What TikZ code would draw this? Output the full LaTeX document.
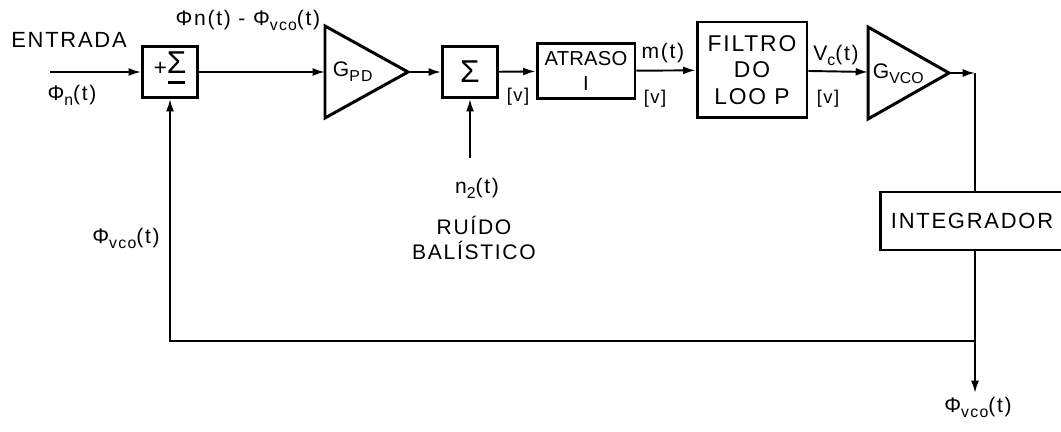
\documentclass[tikz,border=0pt]{standalone}
\usepackage{fontspec}
\setmainfont{Liberation Sans}[LetterSpace=8]
\usetikzlibrary{arrows.meta}
\newcommand{\sbs}[1]{\raisebox{-0.45ex}{\fontsize{9}{10}\selectfont #1}}
\begin{document}
\begin{tikzpicture}[x=0.02cm, y=-0.02cm, >={Latex[length=7pt,width=4.5pt]}, line width=1.1pt,
  blk/.style={draw, line width=1.7pt, align=center, inner sep=1pt, font=\fontsize{13}{15}\selectfont},
  amp/.style={draw, line width=1.7pt, line join=miter},
  lbl/.style={inner sep=0pt, font=\fontsize{12}{14}\selectfont},
  unit/.style={inner sep=0pt, font=\fontsize{10.5}{12}\selectfont}]
  \useasboundingbox (0,0) rectangle (1061,432);

  % blocos
  \node[blk, minimum width=1.1cm, minimum height=1.02cm] (sumA) at (170,72)
    {\raisebox{-3pt}{+}\raisebox{-4pt}{\begin{tabular}{@{}c@{}}{\fontsize{18}{18}\selectfont Σ}\\[-9pt]\rule{10pt}{1.8pt}\end{tabular}}};
  \node[blk, minimum width=1.1cm, minimum height=1.02cm, font=\fontsize{18}{18}\selectfont] (sumB) at (470,72) {Σ};
  \node[blk, minimum width=1.96cm, minimum height=1.1cm,
    font=\fontsize{11.5}{14}\selectfont\addfontfeature{LetterSpace=1}] (atraso) at (586,71) {ATRASO\\I};
  \node[blk, minimum width=2.2cm, minimum height=1.92cm] (filtro) at (752,70) {FILTRO\\DO\\LOO P};
  \node[blk, minimum width=3.68cm, minimum height=1.16cm, font=\fontsize{12.5}{14}\selectfont] (integ) at (972,221) {INTEGRADOR};

  % amplificadores
  \draw[amp] (325,26) -- (408,72) coordinate (gpd out) -- (325,118) -- cycle;
  \coordinate (gpd in) at (325,72);
  \node[lbl, anchor=west] (gpd) at (332,72) {G\sbs{PD}};
  \draw[amp] (868,27) -- (949,73) coordinate (gvco out) -- (868,119) -- cycle;
  \coordinate (gvco in) at (868,72);
  \node[lbl, anchor=west, font=\fontsize{12}{14}\selectfont\addfontfeature{LetterSpace=0}] (gvco) at (872,74) {G\sbs{VCO}};

  % pontos livres
  \coordinate (in) at (50,72);
  \coordinate (tap) at (975,73);
  \coordinate (fb) at (975,341);
  \coordinate (out) at (975,393);
  \coordinate (noise) at (470,158);

  % ligacoes
  \draw[->] (in) -- (sumA);
  \draw[->] (sumA) -- (gpd in);
  \draw[->] (gpd out) -- (sumB);
  \draw[->] (sumB) -- (atraso);
  \draw[->] (atraso) -- (filtro);
  \draw[->] (filtro) -- (gvco in);
  \draw[->] (gvco out) -- (tap);
  \draw (tap) -- (tap |- integ.north);
  \draw[->] (tap |- integ.south) -- (out);
  \draw[->] (fb) -| (sumA.south);
  \draw[->] (noise) -- (sumB.south);

  % rotulos
  \node[lbl, font=\fontsize{12.5}{14}\selectfont] (entrada) at (69,40) {ENTRADA};
  \node[lbl] (phin) at (72,95) {Φ\sbs{n}(t)};
  \node[lbl] (erro) at (248,20) {Φn(t) - Φ\sbs{vco}(t)};
  \node[unit] (vA) at (518,97) {[v]};
  \node[lbl] (mt) at (663,53) {m(t)};
  \node[unit] (vB) at (655,99) {[v]};
  \node[lbl] (vc) at (836,55) {V\sbs{c}(t)};
  \node[unit] (vC) at (828,99) {[v]};
  \node[lbl] (n2) at (477,188) {n\sbs{2}(t)};
  \node[lbl, align=center] (ruido) at (474,238) {RUÍDO\\BALÍSTICO};
  \node[lbl] (phifb) at (126,238) {Φ\sbs{vco}(t)};
  \node[lbl] (phiout) at (978,407) {Φ\sbs{vco}(t)};
\end{tikzpicture}
\end{document}
